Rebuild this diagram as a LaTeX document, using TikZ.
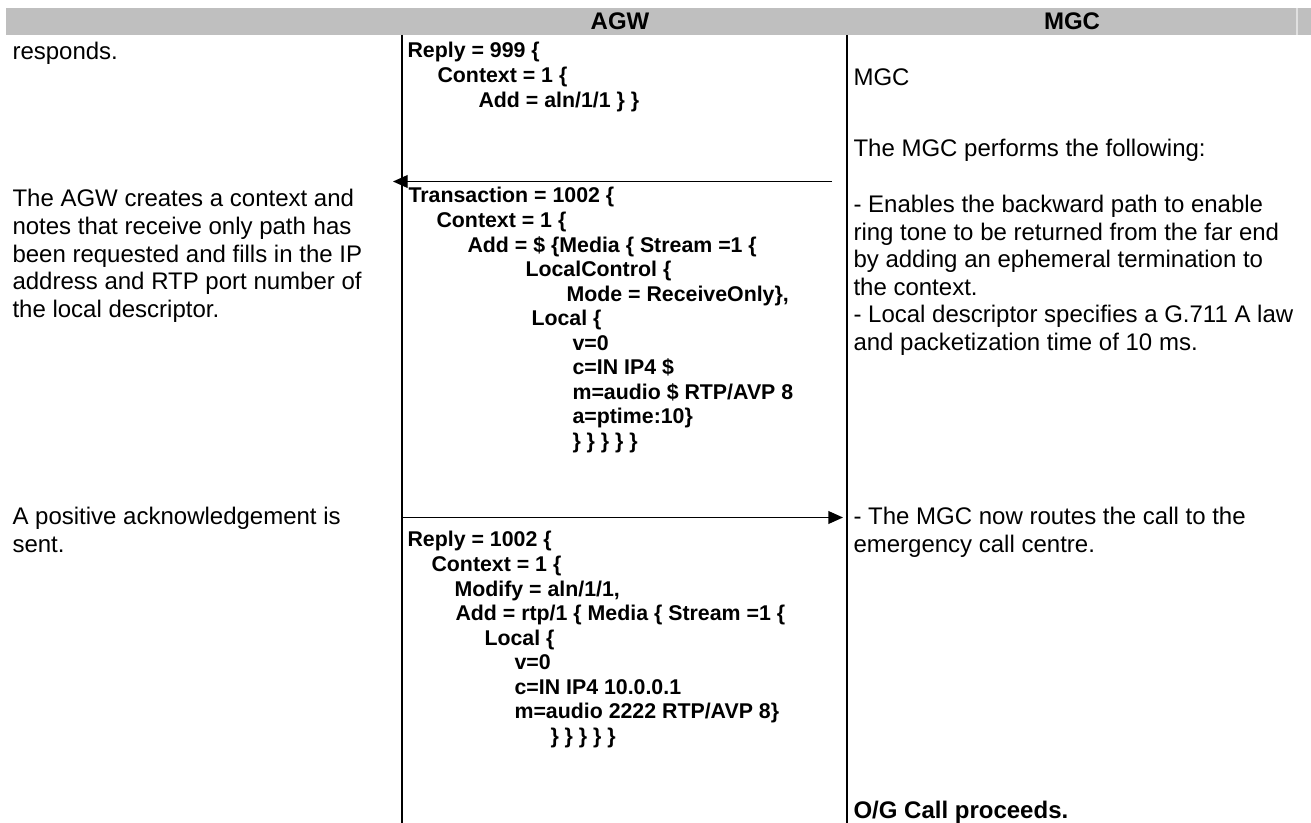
\documentclass[tikz,border=0pt]{standalone}
\usepackage{fontspec}
\setmainfont{Liberation Sans}
\usetikzlibrary{arrows.meta}
\newlength\pxu \setlength\pxu{0.375pt}
\newcommand\indpx[1]{\hspace*{#1\pxu}}
\tikzset{
  note/.style={anchor=north west,inner sep=0pt,align=left,font=\fontsize{9}{10.35}\selectfont},
  code/.style={anchor=north west,inner sep=0pt,align=left,font=\fontsize{8}{9.2}\selectfont\bfseries},
  head/.style={inner sep=0pt,font=\fontsize{9}{10.35}\selectfont\bfseries},
  msg/.style={line width=0.5pt,-{Triangle[length=5.5pt,width=4.8pt]}}
}
\begin{document}
\begin{tikzpicture}[x=0.375pt,y=-0.375pt]
\useasboundingbox (0,0) rectangle (1311,823);
% header row
\fill[black!25] (6,8) rectangle (1311,35);
\draw[black!12,line width=0.4pt] (1297,8)--(1297,35);
\node[head] (agw) at (620,21.5) {AGW};
\node[head] (mgc) at (1072,21.5) {MGC};
% lifelines
\coordinate (agwtop) at (402,35);\coordinate (agwbot) at (402,823);
\coordinate (mgctop) at (847,35);\coordinate (mgcbot) at (847,823);
\draw[line width=1.1pt] (agwtop)--(agwbot);
\draw[line width=0.75pt] (mgctop)--(mgcbot);
% messages
\coordinate (trS) at (832,181.5);\coordinate (trE) at (393,181.5);
\coordinate (rpS) at (402,517.5);\coordinate (rpE) at (843,517.5);
\draw[msg] (trS)--(trE);
\draw[msg] (rpS)--(rpE);
% left column
\node[note] (resp) at (12,42) {responds.};
\node[note] (ctx) at (12,189) {The AGW creates a context and\\notes that receive only path has\\been requested and fills in the IP\\address and RTP port number of\\the local descriptor.};
\node[note] (ack) at (12,507) {A positive acknowledgement is\\sent.};
% AGW column
\node[code] (rep999) at (407,42) {Reply = 999 \{\\
\indpx{30}Context = 1 \{\\
\indpx{71}Add = aln/1/1 \} \}};
\node[code] (tr1002) at (408,187) {Transaction = 1002 \{\\
\indpx{28}Context = 1 \{\\
\indpx{59}Add = \$ \{Media \{ Stream =1 \{\\
\indpx{117}LocalControl \{\\
\indpx{158}Mode = ReceiveOnly\},\\
\indpx{123}Local \{\\
\indpx{164}v=0\\
\indpx{164}c=IN IP4 \$\\
\indpx{164}m=audio \$ RTP/AVP 8\\
\indpx{164}a=ptime:10\}\\
\indpx{164}\} \} \} \} \}};
\node[code] (rep1002) at (407,531) {Reply = 1002 \{\\
\indpx{24}Context = 1 \{\\
\indpx{47}Modify = aln/1/1,\\
\indpx{48}Add = rtp/1 \{ Media \{ Stream =1 \{\\
\indpx{77}Local \{\\
\indpx{107}v=0\\
\indpx{107}c=IN IP4 10.0.0.1\\
\indpx{107}m=audio 2222 RTP/AVP 8\}\\
\indpx{143}\} \} \} \} \}};
% MGC column
\node[note] (mgcname) at (853,68) {MGC};
\node[note] (perf) at (853,139) {The MGC performs the following:};
\node[note] (enab) at (853,194.5) {- Enables the backward path to enable\\ring tone to be returned from the far end\\by adding an ephemeral termination to\\the context.\\- Local descriptor specifies a G.711 A law\\and packetization time of 10 ms.};
\node[note] (route) at (853,507) {- The MGC now routes the call to the\\emergency call centre.};
\node[note,font=\fontsize{9}{10.35}\selectfont\bfseries] (og) at (853,801) {O/G Call proceeds.};
\end{tikzpicture}
\end{document}
